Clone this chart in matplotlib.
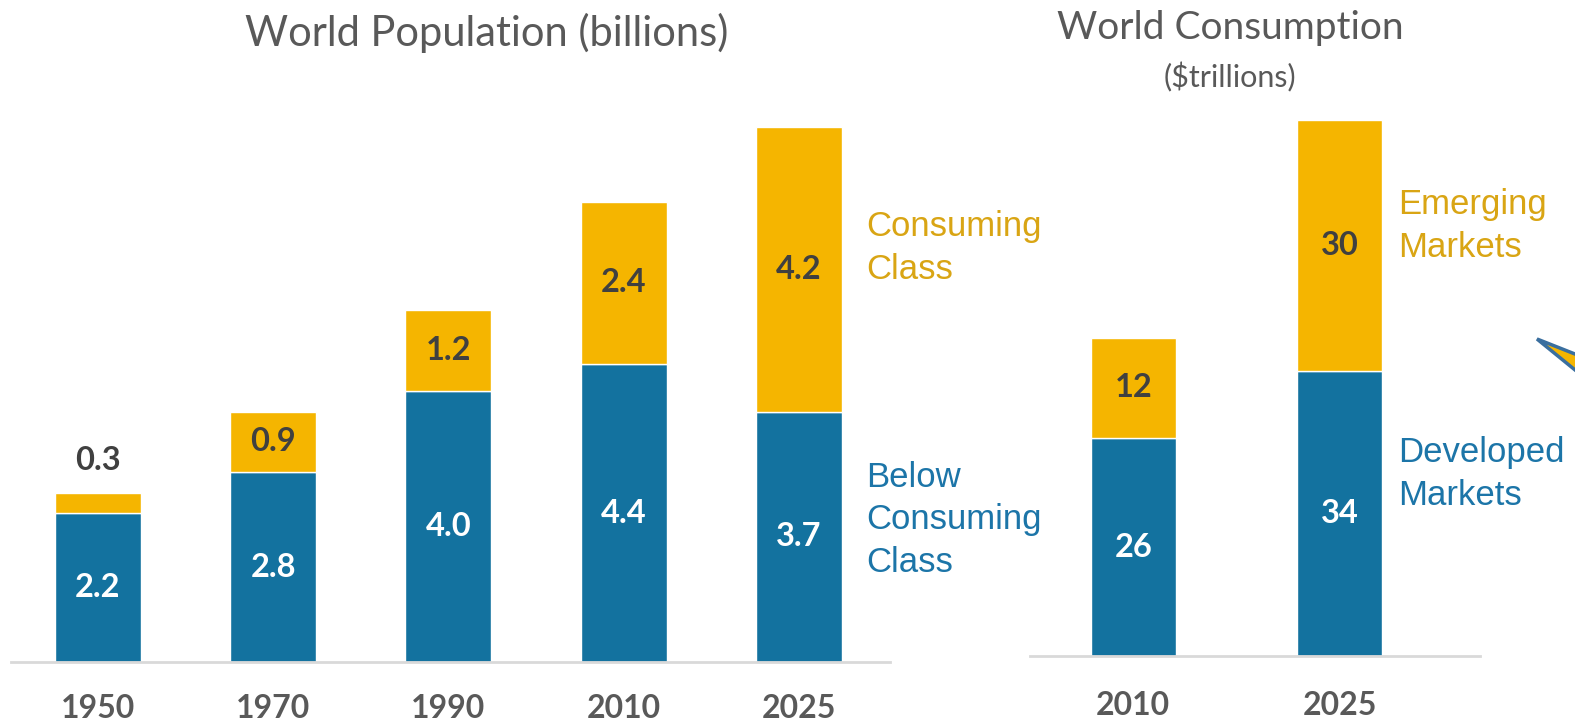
import matplotlib.pyplot as plt
from matplotlib.patches import Polygon

W, H = 1575, 725

years = ["1950", "1970", "1990", "2010", "2025"]
below = [2.2, 2.8, 4.0, 4.4, 3.7]
consuming = [0.3, 0.9, 1.2, 2.4, 4.2]

cons_years = ["2010", "2025"]
developed = [26, 34]
emerging = [12, 30]

BLUE = "#13729f"
ORANGE = "#f5b500"
BLUE_TXT = "#1c75a8"
ORANGE_TXT = "#d9a514"
DARK = "#404040"
GRAY = "#595959"
NUM_FONT = "Lato"


def fx(x):
    return x / W


def fy(y):
    return 1 - y / H


def style_axis(ax, labels, pad):
    for s in ["top", "right", "left"]:
        ax.spines[s].set_visible(False)
    ax.spines["bottom"].set_color("#d9d9d9")
    ax.spines["bottom"].set_linewidth(2)
    ax.set_yticks([])
    ax.set_xticks(range(len(labels)))
    ax.set_xticklabels(labels, fontsize=23, fontweight="bold", color=GRAY,
                       family=NUM_FONT)
    ax.tick_params(axis="x", length=0, pad=pad)
    ax.patch.set_alpha(0)


fig = plt.figure(figsize=(W / 100, H / 100), dpi=100)

# left chart: world population
ax1 = fig.add_axes([fx(11), fy(662), fx(890 - 11), (662 - 100) / H])
x1 = range(len(years))
ax1.bar(x1, below, width=0.49, color=BLUE, edgecolor="white", linewidth=1)
ax1.bar(x1, consuming, width=0.49, bottom=below, color=ORANGE,
        edgecolor="white", linewidth=1)
ax1.set_xlim(-0.496, 4.52)
ax1.set_ylim(0, 562 / 67.7)
style_axis(ax1, years, 23)
for i in x1:
    ax1.text(i, below[i] / 2, f"{below[i]:.1f}", ha="center", va="center",
             color="white", fontsize=23.5, fontweight="bold", family=NUM_FONT)
    if consuming[i] < 0.5:
        ax1.annotate(f"{consuming[i]:.1f}", (i, below[i] + consuming[i]),
                     xytext=(0, 23), textcoords="offset points", ha="center",
                     va="center", color=DARK, fontsize=23.5, fontweight="bold",
                     family=NUM_FONT)
    else:
        ax1.text(i, below[i] + consuming[i] / 2, f"{consuming[i]:.1f}",
                 ha="center", va="center", color=DARK, fontsize=23.5,
                 fontweight="bold", family=NUM_FONT)

# right chart: world consumption
ax2 = fig.add_axes([fx(1030), fy(656), fx(1480 - 1030), (656 - 100) / H])
x2 = range(len(cons_years))
ax2.bar(x2, developed, width=0.41, color=BLUE, edgecolor="white", linewidth=1)
ax2.bar(x2, emerging, width=0.41, bottom=developed, color=ORANGE,
        edgecolor="white", linewidth=1)
ax2.set_xlim(-0.50, 1.68)
ax2.set_ylim(0, 556 / 8.38)
style_axis(ax2, cons_years, 25)
for i in x2:
    ax2.text(i, developed[i] / 2, str(developed[i]), ha="center", va="center",
             color="white", fontsize=23.5, fontweight="bold", family=NUM_FONT)
    ax2.text(i, developed[i] + emerging[i] / 2, str(emerging[i]), ha="center",
             va="center", color=DARK, fontsize=23.5, fontweight="bold",
             family=NUM_FONT)

# titles
fig.text(fx(487), fy(33), "World Population (billions)", ha="center",
         va="center", fontsize=30, color=GRAY, family=NUM_FONT)
fig.text(fx(1230), fy(28), "World Consumption", ha="center", va="center",
         fontsize=28, color=GRAY, family=NUM_FONT)
fig.text(fx(1230), fy(77), "($trillions)", ha="center", va="center",
         fontsize=22, color=GRAY, family=NUM_FONT)

# side labels
side = dict(ha="left", va="center", fontsize=25, family="Liberation Sans",
            linespacing=1.36)
fig.text(fx(866), fy(248), "Consuming\nClass", color=ORANGE_TXT, **side)
fig.text(fx(866), fy(520), "Below\nConsuming\nClass", color=BLUE_TXT, **side)
fig.text(fx(1398), fy(226), "Emerging\nMarkets", color=ORANGE_TXT, **side)
fig.text(fx(1398), fy(474), "Developed\nMarkets", color=BLUE_TXT, **side)

# callout arrow cut off at the right edge
arrow = Polygon([(fx(1537), fy(339)), (fx(1580), fy(356)), (fx(1580), fy(374))],
                closed=True, transform=fig.transFigure, facecolor=ORANGE,
                edgecolor="#3a6f9f", linewidth=2.5, joinstyle="miter")
fig.patches.append(arrow)

fig.savefig("out.png", dpi=100)
